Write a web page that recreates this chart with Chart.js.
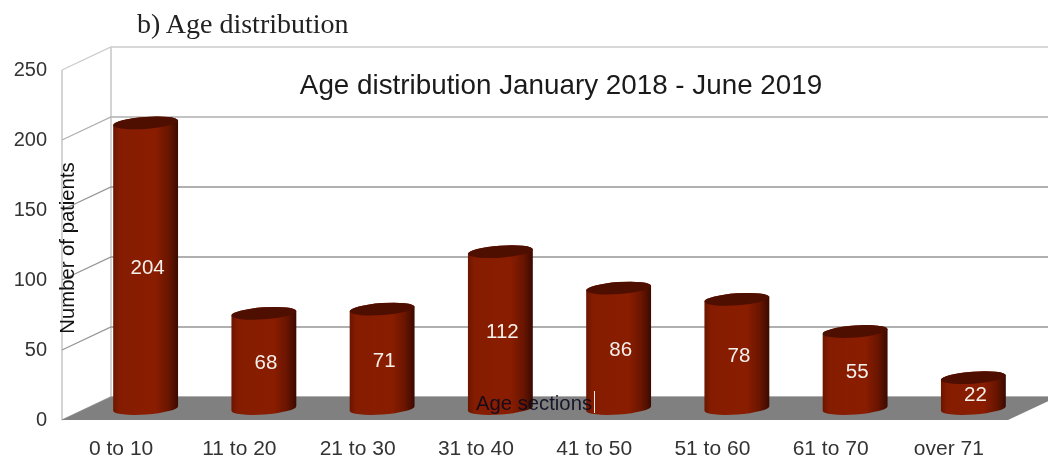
<!DOCTYPE html>
<html>
<head>
<meta charset="utf-8">
<script src="https://cdn.jsdelivr.net/npm/chart.js@4/dist/chart.umd.min.js"></script>
<style>
  html, body { margin: 0; padding: 0; background: #fff; }
  #wrap { position: relative; width: 1048px; height: 461px; overflow: hidden; }
  #heading { position: absolute; left: 137px; top: 8px; font: 28px "Liberation Serif", serif; color: #222; }
</style>
</head>
<body>
<div id="wrap">
  <canvas id="chart" width="1048" height="461"></canvas>
  <div id="heading">b) Age distribution</div>
</div>
<script>
const categories = ['0 to 10', '11 to 20', '21 to 30', '31 to 40', '41 to 50', '51 to 60', '61 to 70', 'over 71'];
const patients = [204, 68, 71, 112, 86, 78, 55, 22];
const yTicks = [0, 50, 100, 150, 200, 250];
const chartTitle = 'Age distribution January 2018 - June 2019';
const xTitle = 'Age sections';
const yTitle = 'Number of patients';

// how far the back wall sits behind the front plane
const depthX = 49;
const depthY = -23;

// floor, walls, gridlines, then the cylinders and all text sitting on the plot
const scene3d = {
  id: 'scene3d',
  beforeDatasetsDraw(chart) {
    const { ctx, chartArea: a, scales: { y } } = chart;
    ctx.save();
    ctx.lineWidth = 1.3;

    // left wall edges
    ctx.strokeStyle = '#bdbdbd';
    ctx.beginPath();
    ctx.moveTo(a.left, a.top);
    ctx.lineTo(a.left, a.bottom);
    ctx.moveTo(a.left + depthX, a.top + depthY);
    ctx.lineTo(a.left + depthX, a.bottom + depthY);
    ctx.stroke();

    yTicks.forEach(v => {
      const py = y.getPixelForValue(v);
      ctx.strokeStyle = v === 250 ? '#cccccc' : (v === 200 ? '#b0b0b0' : '#969696');
      ctx.beginPath();
      ctx.moveTo(a.left, py);
      ctx.lineTo(a.left + depthX, py + depthY);
      ctx.lineTo(a.right + depthX, py + depthY);
      ctx.stroke();
    });

    // floor
    ctx.fillStyle = '#808080';
    ctx.beginPath();
    ctx.moveTo(a.left, a.bottom);
    ctx.lineTo(a.right, a.bottom);
    ctx.lineTo(a.right + depthX, a.bottom + depthY);
    ctx.lineTo(a.left + depthX, a.bottom + depthY);
    ctx.closePath();
    ctx.fill();
    ctx.restore();
  },
  beforeDatasetDraw(chart, args) {
    const { ctx } = chart;
    const tilt = -0.07;
    const ry = 6;
    ctx.save();
    args.meta.data.forEach(bar => {
      const cx = bar.x + depthX / 2;
      const top = bar.y + depthY / 2;
      const base = bar.base + depthY / 2;
      const rx = bar.width / 2;

      const grad = ctx.createLinearGradient(cx - rx, 0, cx + rx, 0);
      grad.addColorStop(0, '#6b1600');
      grad.addColorStop(0.1, '#851c00');
      grad.addColorStop(0.65, '#8a1d00');
      grad.addColorStop(0.85, '#6a1500');
      grad.addColorStop(1, '#3a0a00');

      ctx.fillStyle = grad;
      ctx.beginPath();
      ctx.ellipse(cx, base, rx, ry, tilt, Math.PI, 0, true);
      ctx.ellipse(cx, top, rx, ry, tilt, 0, Math.PI, true);
      ctx.closePath();
      ctx.fill();

      ctx.fillStyle = '#4e0f00';
      ctx.beginPath();
      ctx.ellipse(cx, top, rx, ry, tilt, 0, Math.PI * 2);
      ctx.fill();
    });
    ctx.restore();
    return false; // the cylinders replace the flat bars
  },
  afterDatasetsDraw(chart) {
    const { ctx } = chart;
    const bars = chart.getDatasetMeta(0).data;
    ctx.save();
    ctx.textAlign = 'center';
    ctx.textBaseline = 'middle';

    // value labels
    ctx.fillStyle = '#f4f0ec';
    ctx.font = '20.5px "Liberation Sans"';
    bars.forEach((bar, i) => {
      ctx.fillText(patients[i], bar.x + depthX / 2 + 2, (bar.y + bar.base) / 2 + depthY / 2 + 2.5);
    });

    ctx.fillStyle = '#1a1a1a';
    ctx.font = '27.8px "Liberation Sans"';
    ctx.fillText(chartTitle, 561, 86);

    ctx.fillStyle = 'rgba(10, 10, 30, 0.9)';
    ctx.font = '20.3px "Liberation Sans"';
    ctx.fillText(xTitle, 534, 404);
    ctx.save();
    ctx.translate(68, 248);
    ctx.rotate(-Math.PI / 2);
    ctx.fillStyle = '#111';
    ctx.fillText(yTitle, 0, 0);
    ctx.restore();

    // stray white marker next to the axis title
    ctx.strokeStyle = '#f0f0f0';
    ctx.lineWidth = 1;
    ctx.beginPath();
    ctx.moveTo(594.5, 391);
    ctx.lineTo(594.5, 413);
    ctx.stroke();
    ctx.restore();
  }
};

new Chart(document.getElementById('chart'), {
  type: 'bar',
  data: {
    labels: categories,
    datasets: [{
      data: patients,
      backgroundColor: '#8a1d00',
      categoryPercentage: 1,
      barPercentage: 0.55,
    }],
  },
  options: {
    responsive: false,
    animation: false,
    layout: { padding: { top: 70, right: 40, left: 0, bottom: 0 } },
    plugins: { legend: { display: false }, title: { display: false }, tooltip: { enabled: false } },
    scales: {
      x: {
        grid: { display: false },
        border: { display: false },
        ticks: { color: '#333', font: { family: 'Liberation Sans', size: 21 }, padding: 9, maxRotation: 0, autoSkip: false },
        afterFit(scale) { scale.height = 41; },
      },
      y: {
        min: 0,
        max: 250,
        grid: { display: false, drawTicks: false },
        border: { display: false },
        ticks: { color: '#333', font: { family: 'Liberation Sans', size: 20 }, padding: 15, stepSize: 50 },
        afterFit(scale) { scale.width = 62; },
      },
    },
  },
  plugins: [scene3d],
});
</script>
</body>
</html>
